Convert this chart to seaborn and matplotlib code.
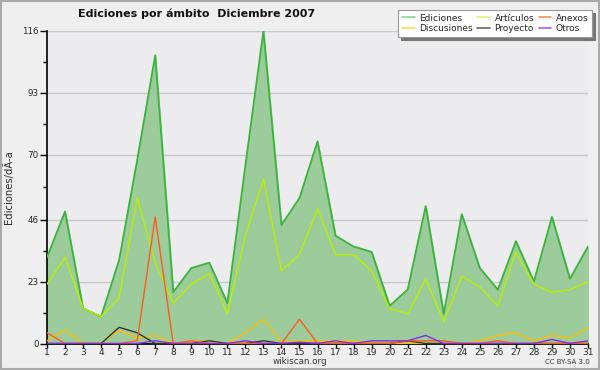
import numpy as np
import pandas as pd
import matplotlib
matplotlib.use("Agg")
import matplotlib.pyplot as plt
import seaborn as sns
from matplotlib.ticker import FixedLocator
from matplotlib.lines import Line2D

days = list(range(1, 32))
ediciones = [32, 49, 13, 10, 31, 68, 107, 19, 28, 30, 15, 66, 116, 44, 54, 75,
             40, 36, 34, 14, 20, 51, 11, 48, 28, 20, 38, 23, 47, 24, 36]
articulos = [22, 32, 13, 10, 17, 54, 30, 15, 22, 26, 11, 40, 61, 27, 33, 50,
             33, 33, 27, 13, 11, 24, 8, 25, 21, 14, 34, 22, 19, 20, 23]
anexos = [4, 0, 0, 0, 0, 1, 47, 0, 1, 0, 0, 0, 0, 0, 9, 0,
          0, 0, 0, 0, 1, 1, 1, 0, 0, 1, 0, 0, 0, 0, 0]
discusiones = [1, 5, 0, 0, 5, 2, 3, 0, 0.5, 1, 0, 4, 9, 0.5, 1, 1,
               1, 1, 0, 0, 0, 0, 0, 0, 1, 3, 4, 1, 3, 2, 6]
proyecto = [0, 0, 0, 0, 6, 4, 0, 0, 0, 1, 0, 0, 1, 0, 0, 0,
            0, 0, 0, 0, 1, 0, 0, 0, 0, 0, 0, 0, 0, 0, 0]
otros = [0, 0, 0, 0, 0, 0, 1, 0, 0, 0, 0, 1, 0, 0, 0.5, 0,
         1, 0, 1, 1, 1, 3, 0, 0, 0, 0, 0, 0, 1.5, 0, 1]
yticks = [0, 23, 46, 70, 93, 116]

df = pd.DataFrame({"dia": days, "Ediciones": ediciones, "Artículos": articulos,
                   "Anexos": anexos, "Discusiones": discusiones,
                   "Proyecto": proyecto, "Otros": otros})

sns.set_style("white")
plt.rcParams['font.family'] = ['DejaVu Sans']

fig = plt.figure(figsize=(6.0, 3.7), dpi=100, facecolor="#efefef")
ax = fig.add_axes([47/600, 26.5/370, 541/600, 312.5/370])
ax.set_facecolor("#ececee")

colors = {"Ediciones": "#3cb43c", "Artículos": "#b8f000", "Anexos": "#ff5a1e",
          "Discusiones": "#ffbe00", "Proyecto": "#333333", "Otros": "#8a2be2"}
legend_colors = {"Ediciones": "#8cd88c", "Artículos": "#d8f880", "Anexos": "#ff9060",
                 "Discusiones": "#ffd860", "Proyecto": "#666666", "Otros": "#a060f0"}

ax.fill_between(df["dia"], 0, df["Ediciones"], color="#9ccb9c", zorder=1)
order = ["Ediciones", "Artículos", "Discusiones", "Proyecto", "Anexos", "Otros"]
for name in order:
    sns.lineplot(data=df, x="dia", y=name, ax=ax, color=colors[name],
                 linewidth=1.3 if name == "Ediciones" else 1.0, zorder=3)

ax.set_xlim(1, 31)
ax.set_ylim(0, 116)
ax.set_xticks(days)
ax.set_xticklabels([str(d) for d in days])
ax.yaxis.set_major_locator(FixedLocator(yticks))
ax.yaxis.set_minor_locator(FixedLocator([11.5, 34.5, 58, 81.5, 104.5]))
for y in yticks[1:]:
    ax.axhline(y, color="#c8c8c8", linewidth=1.0, zorder=0.5)
ax.tick_params(axis="y", which="major", labelsize=6.3, length=5, width=1,
               color="black", direction="out", pad=1, left=True)
ax.tick_params(axis="x", which="major", labelsize=6.5, length=3, width=1,
               color="black", direction="out", pad=0.5, bottom=True)
ax.tick_params(axis="y", which="minor", length=3, width=1, color="black", left=True)
for s in ["top", "right"]:
    ax.spines[s].set_visible(False)
for s in ["left", "bottom"]:
    ax.spines[s].set_color("black")
    ax.spines[s].set_linewidth(1.2)
ax.set_xlabel("")
ax.set_ylabel("Ediciones/dÃ-a", fontsize=7.2, labelpad=6)

fig.text(197/600, 1 - 14/370, "Ediciones por ámbito  Diciembre 2007", ha="center",
         va="center", fontsize=8, fontweight="bold", color="#111111")
fig.text(0.5, 1 - 361/370, "wikiscan.org", ha="center", va="center", fontsize=6.3,
         color="#333333")
fig.text(590/600, 1 - 362/370, "CC BY-SA 3.0", ha="right", va="center", fontsize=5,
         color="#333333")

leg_order = ["Ediciones", "Discusiones", "Artículos", "Proyecto", "Anexos", "Otros"]
handles = [Line2D([0], [0], color=legend_colors[n], linewidth=1.2) for n in leg_order]
leg = fig.legend(handles, leg_order, ncol=3, loc="upper right",
                 bbox_to_anchor=(592/600, 1 - 10/370), fontsize=6.5, frameon=True,
                 fancybox=False, shadow={"color": "#777777", "alpha": 1.0},
                 handlelength=1.4, handletextpad=0.5, columnspacing=0.5,
                 labelspacing=0.2, borderpad=0.4, borderaxespad=0)
leg.get_frame().set_edgecolor("#999999")
leg.get_frame().set_facecolor("white")
leg.get_frame().set_linewidth(0.8)

border = plt.Rectangle((0.001, 0.002), 0.997, 0.996, transform=fig.transFigure,
                       fill=False, edgecolor="#aaaaaa", linewidth=1.5)
fig.patches.append(border)

fig.savefig("out.png", dpi=100, facecolor=fig.get_facecolor())
